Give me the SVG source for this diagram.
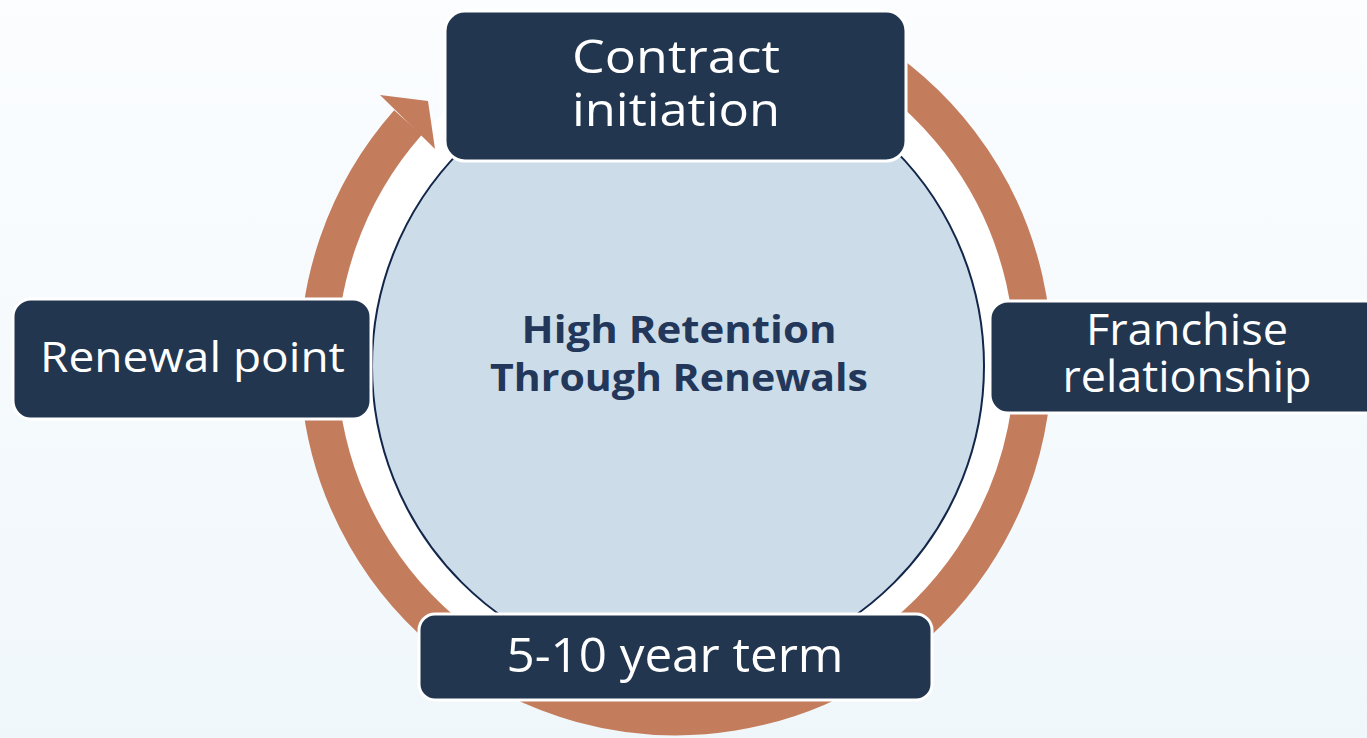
<svg xmlns="http://www.w3.org/2000/svg" width="1367" height="738" viewBox="0 0 1367 738">
  <defs>
    <linearGradient id="bg" x1="0" y1="0" x2="0" y2="1">
      <stop offset="0" stop-color="#fbfdff"/>
      <stop offset="1" stop-color="#f0f7fb"/>
    </linearGradient>
    <style>
      .box { fill: #22364f; stroke: #ffffff; stroke-width: 3; }
      .lbl { font-family: "Open Sans", "Liberation Sans", sans-serif; font-weight: 400; fill: #ffffff; text-anchor: middle; }
      .ctr { font-family: "Open Sans", "Liberation Sans", sans-serif; font-weight: 700; fill: #22375a; text-anchor: middle; font-size: 37px; }
      .ring { fill: none; stroke: #c47d5c; stroke-width: 37; }
    </style>
  </defs>
  <rect x="0" y="0" width="1367" height="738" fill="url(#bg)"/>
  <circle cx="677" cy="360" r="340" fill="#ffffff"/>
  <g id="connectors">
    <path class="ring" d="M 855.75 50.4 A 357.5 357.5 0 1 1 408 122.5"/>
    <polygon points="380,95 428,101 435,149" fill="#c47d5c"/>
  </g>
  <g id="center">
    <circle cx="678" cy="366" r="306" fill="#ccdde9" stroke="#13264a" stroke-width="2"/>
    <text class="ctr"><tspan x="679" y="343" textLength="315" lengthAdjust="spacingAndGlyphs">High Retention</tspan><tspan x="679" y="391" textLength="378" lengthAdjust="spacingAndGlyphs">Through Renewals</tspan></text>
  </g>
  <g id="contract">
    <rect class="box" x="445" y="11" width="461" height="150" rx="20"/>
    <text class="lbl" font-size="46"><tspan x="676" y="73" textLength="208" lengthAdjust="spacingAndGlyphs">Contract</tspan><tspan x="676" y="126" textLength="208" lengthAdjust="spacingAndGlyphs">initiation</tspan></text>
  </g>
  <g id="franchise">
    <rect class="box" x="990" y="301" width="400" height="112" rx="18"/>
    <text class="lbl" font-size="44"><tspan x="1187" y="345" textLength="202" lengthAdjust="spacingAndGlyphs">Franchise</tspan><tspan x="1187" y="392" textLength="249" lengthAdjust="spacingAndGlyphs">relationship</tspan></text>
  </g>
  <g id="renewal">
    <rect class="box" x="13" y="299" width="358" height="120" rx="18"/>
    <text class="lbl" x="192.5" y="372" font-size="42" textLength="305" lengthAdjust="spacingAndGlyphs">Renewal point</text>
  </g>
  <g id="term">
    <rect class="box" x="419" y="614" width="513" height="86" rx="16"/>
    <text class="lbl" x="675" y="672" font-size="48" textLength="337" lengthAdjust="spacingAndGlyphs">5-10 year term</text>
  </g>
</svg>
